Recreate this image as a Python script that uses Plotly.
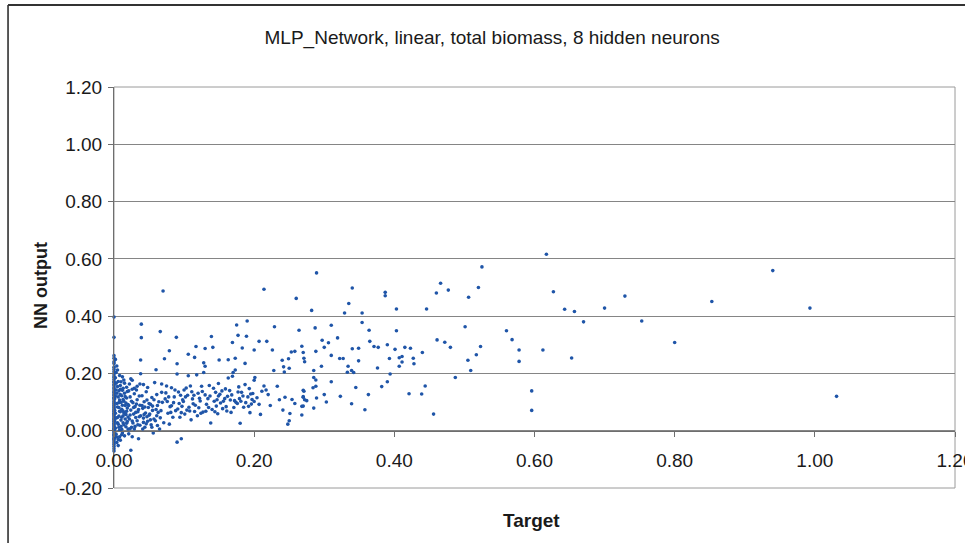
import plotly.graph_objects as go

# Targets that are exactly zero (the vertical column on the y axis)
zero_target_output = [0.397, 0.326, 0.262, 0.253, 0.241, 0.235, 0.222, 0.214, 0.206, 0.198,
                      0.191, 0.186, 0.179, 0.172, 0.168, 0.161, 0.157, 0.150, 0.146, 0.139,
                      0.134, 0.128, 0.124, 0.117, 0.113, 0.108, 0.102, 0.097, 0.093, 0.088,
                      0.083, 0.079, 0.074, 0.069, 0.066, 0.061, 0.057, 0.052, 0.048, 0.043,
                      0.039, 0.034, 0.031, 0.026, 0.022, 0.017, 0.013, 0.009, 0.004, 0.001,
                      -0.004, -0.008, -0.013, -0.017, -0.022, -0.027, -0.031, -0.036, -0.042,
                      -0.048, -0.055, -0.063, -0.071]

# Small targets (0 < target <= 0.02)
small_target = [0.002, 0.003, 0.004, 0.002, 0.005, 0.003, 0.004, 0.006, 0.006, 0.007,
                0.005, 0.007, 0.008, 0.006, 0.009, 0.009, 0.010, 0.008, 0.010, 0.011,
                0.009, 0.012, 0.012, 0.013, 0.011, 0.013, 0.014, 0.012, 0.015, 0.015,
                0.016, 0.014, 0.016, 0.017, 0.015, 0.018, 0.018, 0.019, 0.017, 0.019,
                0.020, 0.003, 0.004, 0.002, 0.001, 0.001, 0.001, 0.001, 0.002, 0.003,
                0.004, 0.005, 0.005, 0.006, 0.007, 0.007, 0.008, 0.008, 0.009, 0.010,
                0.010, 0.011, 0.011, 0.012, 0.013, 0.013, 0.014, 0.014, 0.016, 0.016,
                0.017, 0.018, 0.018, 0.019, 0.020, 0.020, 0.004, 0.006, 0.008, 0.011,
                0.013, 0.002, 0.003, 0.005, 0.007, 0.009]
small_output = [0.185, 0.142, 0.095, 0.061, 0.028, -0.012, -0.041, 0.172, 0.118, 0.081,
                0.046, 0.012, -0.021, -0.052, 0.158, 0.126, 0.099, 0.068, 0.037, 0.005,
                -0.033, 0.188, 0.141, 0.109, 0.075, 0.052, 0.021, -0.008, 0.166, 0.131,
                0.088, 0.063, 0.041, 0.014, -0.018, 0.152, 0.114, 0.079, 0.057, 0.032,
                0.006, 0.203, 0.226, 0.249, 0.112, 0.071, 0.034, -0.024, 0.009, 0.044,
                0.131, 0.154, 0.083, 0.023, 0.051, 0.139, 0.107, 0.193, 0.066, 0.015,
                0.171, 0.122, 0.047, 0.089, 0.028, 0.148, 0.103, 0.177, 0.059, 0.119,
                0.097, 0.026, 0.068, 0.137, 0.091, 0.048, -0.022, -0.031, 0.002, -0.014,
                0.069, 0.120, 0.166, 0.212, 0.098, 0.145]

# Low targets (0.02 < target < 0.27)
low_target = [0.022, 0.023, 0.024, 0.022, 0.025, 0.024, 0.026, 0.027, 0.028, 0.027,
              0.029, 0.030, 0.031, 0.030, 0.032, 0.033, 0.034, 0.033, 0.035, 0.036,
              0.037, 0.038, 0.037, 0.039, 0.039, 0.038, 0.038, 0.040, 0.041, 0.042,
              0.042, 0.043, 0.044, 0.045, 0.046, 0.047, 0.048, 0.049, 0.050, 0.051,
              0.052, 0.053, 0.054, 0.054, 0.055, 0.056, 0.057, 0.058, 0.059, 0.060,
              0.061, 0.061, 0.062, 0.063, 0.065, 0.066, 0.067, 0.068, 0.068, 0.069,
              0.070, 0.071, 0.072, 0.073, 0.075, 0.076, 0.077, 0.079, 0.079, 0.080,
              0.082, 0.082, 0.084, 0.086, 0.088, 0.089, 0.090, 0.090, 0.090, 0.092,
              0.093, 0.094, 0.096, 0.096, 0.098, 0.099, 0.100, 0.101, 0.103, 0.105,
              0.106, 0.106, 0.107, 0.108, 0.109, 0.110, 0.112, 0.113, 0.115, 0.115,
              0.117, 0.118, 0.119, 0.120, 0.121, 0.123, 0.125, 0.127, 0.128, 0.128,
              0.130, 0.130, 0.130, 0.132, 0.134, 0.136, 0.138, 0.139, 0.140, 0.141,
              0.143, 0.145, 0.146, 0.148, 0.149, 0.149, 0.150, 0.152, 0.155, 0.158,
              0.160, 0.162, 0.163, 0.163, 0.165, 0.167, 0.169, 0.169, 0.170, 0.172,
              0.173, 0.173, 0.174, 0.175, 0.177, 0.177, 0.179, 0.180, 0.182, 0.183,
              0.185, 0.187, 0.187, 0.189, 0.190, 0.191, 0.193, 0.194, 0.196, 0.198,
              0.200, 0.200, 0.200, 0.201, 0.204, 0.207, 0.207, 0.209, 0.211, 0.214,
              0.214, 0.217, 0.218, 0.220, 0.223, 0.226, 0.228, 0.229, 0.233, 0.236,
              0.240, 0.241, 0.242, 0.243, 0.244, 0.248, 0.249, 0.250, 0.250, 0.251,
              0.253, 0.254, 0.258, 0.258, 0.260, 0.264,
              0.074, 0.078, 0.081, 0.085, 0.087, 0.091, 0.095, 0.097, 0.102, 0.104,
              0.111, 0.114, 0.116, 0.122, 0.124, 0.126, 0.131, 0.135, 0.137, 0.142,
              0.144, 0.147, 0.151, 0.154, 0.156, 0.159, 0.161, 0.166, 0.168, 0.171,
              0.176, 0.178, 0.181, 0.184, 0.188, 0.192, 0.195, 0.197,
              0.021, 0.023, 0.025, 0.026, 0.028, 0.029, 0.031, 0.032, 0.034, 0.035,
              0.036, 0.040, 0.041, 0.043, 0.044, 0.046, 0.047, 0.050, 0.052, 0.055,
              0.057, 0.060, 0.062, 0.064, 0.066, 0.021, 0.023, 0.026, 0.029, 0.033,
              0.037, 0.042, 0.048, 0.021, 0.024, 0.026]
low_output = [0.163, 0.118, 0.072, 0.041, 0.012, -0.068, 0.145, 0.098, 0.058, 0.027,
              0.129, 0.084, 0.046, 0.015, 0.142, 0.108, 0.066, 0.035, -0.028, 0.121,
              0.089, 0.052, 0.019, 0.372, 0.325, 0.247, 0.199, 0.122, 0.078, 0.044,
              0.029, 0.101, 0.012, 0.062, 0.136, 0.107, 0.033, 0.081, 0.054, 0.058,
              0.092, 0.021, 0.116, 0.012, 0.071, -0.008, 0.041, 0.168, 0.035, 0.213,
              0.126, 0.052, 0.088, 0.064, 0.006, 0.346, 0.070, 0.163, 0.134, 0.099,
              0.488, 0.028, 0.251, 0.111, 0.156, 0.102, 0.061, 0.279, 0.023, 0.084,
              0.150, 0.087, 0.047, 0.118, 0.070, 0.326, 0.234, 0.198, -0.040, 0.135,
              0.095, 0.047, -0.028, 0.063, 0.108, 0.102, 0.142, 0.058, 0.149, 0.124,
              0.267, 0.192, 0.082, 0.069, 0.156, 0.038, 0.111, 0.094, 0.256, 0.067,
              0.294, 0.195, 0.052, 0.131, 0.080, 0.104, 0.155, 0.065, 0.237, 0.203,
              0.287, 0.225, 0.125, 0.092, 0.112, 0.158, 0.027, 0.329, 0.074, 0.291,
              0.103, 0.134, 0.086, 0.059, 0.165, 0.121, 0.247, 0.097, 0.077, 0.112,
              0.084, 0.120, 0.248, 0.184, 0.140, 0.064, 0.190, 0.308, 0.203, 0.105,
              0.253, 0.212, 0.099, 0.369, 0.333, 0.135, 0.112, 0.026, 0.134, 0.289,
              0.082, 0.235, 0.161, 0.330, 0.383, 0.118, 0.147, 0.063, 0.093, 0.130,
              0.282, 0.176, 0.102, 0.186, 0.115, 0.312, 0.092, 0.057, 0.138, 0.494,
              0.156, 0.142, 0.312, 0.126, 0.088, 0.282, 0.210, 0.363, 0.155, 0.108,
              0.246, 0.072, 0.223, 0.205, 0.117, 0.023, 0.251, 0.218, 0.035, 0.060,
              0.275, 0.109, 0.277, 0.095, 0.462, 0.351,
              0.132, 0.118, 0.064, 0.098, 0.142, 0.076, 0.124, 0.085, 0.118, 0.072,
              0.136, 0.124, 0.089, 0.113, 0.061, 0.137, 0.068, 0.081, 0.121, 0.148,
              0.066, 0.108, 0.127, 0.139, 0.103, 0.146, 0.069, 0.107, 0.125, 0.081,
              0.095, 0.153, 0.103, 0.121, 0.098, 0.085, 0.128, 0.109,
              0.088, 0.055, 0.103, 0.034, 0.081, 0.006, 0.064, 0.093, 0.021, 0.074,
              0.049, 0.088, 0.006, 0.057, 0.083, 0.024, 0.049, 0.095, 0.038, 0.086,
              0.108, 0.074, 0.018, 0.101, 0.045, -0.011, 0.007, -0.021, 0.148, 0.155,
              0.163, 0.161, 0.151, 0.139, 0.181, 0.176]

# Mid targets (0.26 to 0.53)
mid_target = [0.268, 0.268, 0.268, 0.270, 0.270, 0.270, 0.270, 0.270, 0.271, 0.271,
              0.272, 0.272, 0.275, 0.282, 0.284, 0.285, 0.285, 0.285, 0.287, 0.288,
              0.288, 0.288, 0.289, 0.289, 0.296, 0.297, 0.300, 0.300, 0.303, 0.306,
              0.310, 0.310, 0.310, 0.319, 0.322, 0.323, 0.327, 0.329, 0.333, 0.334,
              0.335, 0.339, 0.339, 0.340, 0.340, 0.342, 0.345, 0.349, 0.349, 0.354,
              0.354, 0.358, 0.363, 0.364, 0.365, 0.371, 0.376, 0.377, 0.382, 0.387,
              0.387, 0.390, 0.390, 0.393, 0.394, 0.401, 0.403, 0.403, 0.407, 0.407,
              0.411, 0.411, 0.415, 0.421, 0.423, 0.427, 0.428, 0.439, 0.440, 0.444,
              0.446, 0.456, 0.460, 0.461, 0.466, 0.472, 0.477, 0.480, 0.487, 0.501,
              0.505, 0.506, 0.509, 0.517, 0.520, 0.523, 0.525]
mid_output = [0.295, 0.085, 0.055, 0.273, 0.119, 0.141, 0.117, 0.086, 0.253, 0.138,
              0.241, 0.108, 0.105, 0.420, 0.150, 0.210, 0.186, 0.079, 0.359, 0.277,
              0.177, 0.155, 0.551, 0.114, 0.225, 0.316, 0.291, 0.126, 0.100, 0.307,
              0.368, 0.263, 0.171, 0.324, 0.252, 0.120, 0.252, 0.411, 0.204, 0.225,
              0.444, 0.210, 0.094, 0.498, 0.286, 0.203, 0.151, 0.288, 0.244, 0.411,
              0.378, 0.073, 0.126, 0.351, 0.312, 0.294, 0.219, 0.291, 0.154, 0.483,
              0.471, 0.300, 0.171, 0.252, 0.198, 0.284, 0.425, 0.349, 0.255, 0.225,
              0.259, 0.240, 0.291, 0.129, 0.288, 0.253, 0.234, 0.128, 0.273, 0.156,
              0.425, 0.058, 0.481, 0.317, 0.515, 0.309, 0.491, 0.291, 0.186, 0.363,
              0.246, 0.466, 0.210, 0.265, 0.500, 0.294, 0.572]

# High targets (above 0.55)
high_target = [0.560, 0.568, 0.578, 0.578, 0.596, 0.596, 0.612, 0.617, 0.627, 0.643,
               0.653, 0.657, 0.670, 0.700, 0.729, 0.753, 0.800, 0.853, 0.940, 0.993,
               1.031]
high_output = [0.349, 0.318, 0.282, 0.242, 0.139, 0.071, 0.282, 0.616, 0.485, 0.424,
               0.254, 0.416, 0.380, 0.428, 0.470, 0.383, 0.308, 0.451, 0.559, 0.428,
               0.120]

target = ([0.0] * len(zero_target_output) + small_target + low_target
          + mid_target + high_target)
nn_output = zero_target_output + small_output + low_output + mid_output + high_output
assert len(target) == len(nn_output)

x_tick_values = [0.0, 0.2, 0.4, 0.6, 0.8, 1.0, 1.2]
y_tick_values = [-0.2, 0.0, 0.2, 0.4, 0.6, 0.8, 1.0, 1.2]
# plain hyphen for negatives, two decimals
x_tick_text = [f"{v:.2f}" for v in x_tick_values]
y_tick_text = [f"{v:.2f}" for v in y_tick_values]

FONT = "Liberation Sans, Arial, sans-serif"
GRID = "#858585"
AXIS = "#6e6e6e"

fig = go.Figure(
    go.Scatter(
        x=target, y=nn_output, mode="markers",
        marker=dict(size=3.6, color="#1f55a8", line=dict(width=0)),
        cliponaxis=False, showlegend=False,
    )
)

# y=0 sits at this fraction of the plot height, where the x axis crosses
x_axis_pos = (0 - y_tick_values[0]) / (y_tick_values[-1] - y_tick_values[0])

fig.update_layout(
    width=965, height=543,
    margin=dict(l=114, r=10, t=87, b=55, autoexpand=False),
    paper_bgcolor="white", plot_bgcolor="white",
    font=dict(family=FONT, size=19, color="#1a1a1a"),
    title=dict(text="MLP_Network, linear, total biomass, 8 hidden neurons",
               x=0.51, xanchor="center", y=1 - 37 / 543, yanchor="middle",
               font=dict(family=FONT, size=19, color="#1a1a1a")),
    xaxis=dict(range=[0, 1.2], tickvals=x_tick_values, ticktext=x_tick_text,
               showgrid=False, zeroline=False, showline=True, linecolor=AXIS,
               linewidth=1, ticks="outside", ticklen=5, tickcolor=AXIS,
               anchor="free", position=x_axis_pos, ticklabelstandoff=7,
               ticklabeloverflow="allow"),
    yaxis=dict(range=[-0.2, 1.2], tickvals=y_tick_values, ticktext=y_tick_text,
               showgrid=True, gridcolor=GRID, gridwidth=1, zeroline=False,
               showline=True, linecolor=AXIS, linewidth=1, ticks="outside",
               ticklen=5, tickcolor=AXIS, ticklabelstandoff=2),
    shapes=[
        # plot-area frame
        dict(type="rect", xref="paper", yref="paper", x0=0, x1=1, y0=0, y1=1,
             line=dict(color="#9a9a9a", width=1), layer="below"),
        # chart-area frame (left and top edges)
        dict(type="line", xref="paper", yref="paper", x0=-0.126, x1=-0.126,
             y0=-0.15, y1=1.2045, line=dict(color="#222", width=1.5)),
        dict(type="line", xref="paper", yref="paper", x0=-0.126, x1=1.03,
             y0=1.2045, y1=1.2045, line=dict(color="#333", width=2)),
    ],
    annotations=[
        dict(text="<b>Target</b>", xref="paper", yref="paper", x=0.497, y=-0.082,
             xanchor="center", yanchor="middle", showarrow=False,
             font=dict(family=FONT, size=19)),
        dict(text="<b>NN output</b>", xref="paper", yref="paper", x=-0.087, y=0.506,
             xanchor="center", yanchor="middle", textangle=-90, showarrow=False,
             font=dict(family=FONT, size=18)),
    ],
)

fig.write_html("out.html")
